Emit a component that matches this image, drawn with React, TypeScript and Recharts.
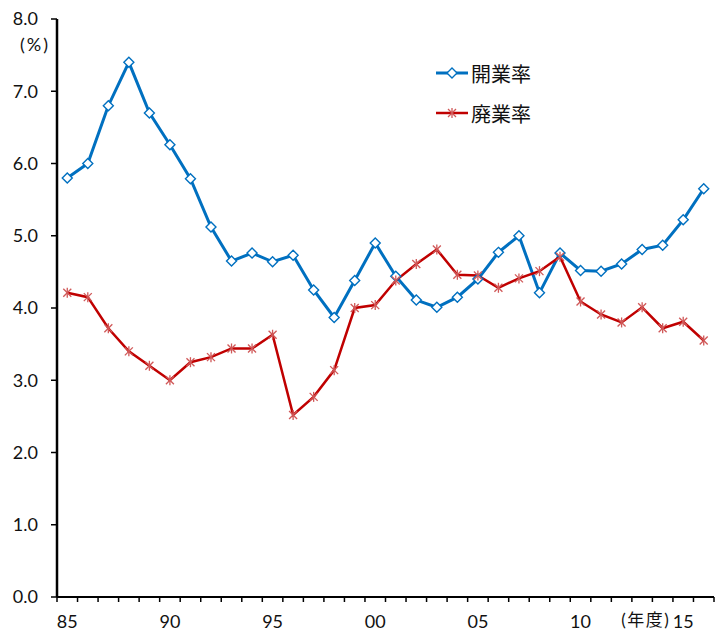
import React from "react"
import { LineChart, Line, XAxis, YAxis, Legend } from "recharts"

// fiscal years on the x axis
const years = [
  1985, 1986, 1987, 1988, 1989, 1990, 1991, 1992, 1993, 1994, 1995, 1996, 1997, 1998, 1999, 2000,
  2001, 2002, 2003, 2004, 2005, 2006, 2007, 2008, 2009, 2010, 2011, 2012, 2013, 2014, 2015, 2016,
]

// 開業率 (%)
const openingRate = [
  5.8, 6.0, 6.8, 7.4, 6.7, 6.26, 5.79, 5.12, 4.65, 4.76, 4.64, 4.73, 4.25, 3.87, 4.38, 4.9,
  4.44, 4.11, 4.01, 4.15, 4.4, 4.77, 5.0, 4.21, 4.76, 4.52, 4.51, 4.61, 4.81, 4.87, 5.22, 5.65,
]

// 廃業率 (%)
const closingRate = [
  4.21, 4.15, 3.72, 3.4, 3.2, 3.0, 3.25, 3.32, 3.44, 3.44, 3.63, 2.52, 2.77, 3.14, 4.0, 4.04,
  4.38, 4.61, 4.81, 4.46, 4.45, 4.28, 4.41, 4.51, 4.71, 4.09, 3.91, 3.8, 4.01, 3.72, 3.81, 3.55,
]

const yTicks = [0, 1, 2, 3, 4, 5, 6, 7, 8]
const xLabelYears = [1985, 1990, 1995, 2000, 2005, 2010, 2015]

const BLUE = "#0070C0"
const RED = "#C00000"
const RED_MARK = "#D05858"
const FONT = "Lato, 'Noto Sans CJK JP', sans-serif"

const data = years.map((year, i) => ({ year, open: openingRate[i], close: closingRate[i] }))

// tick marks sit between the years, labels every 5 years
const boundaries = [...years.map((y) => y - 0.5), years[years.length - 1] + 0.5]
const xTicks = [...boundaries, ...xLabelYears].sort((a, b) => a - b)

const Diamond = (props: any) => {
  const { cx, cy } = props
  if (cx == null || cy == null) return null
  const r = 5
  return (
    <polygon
      points={`${cx},${cy - r} ${cx + r},${cy} ${cx},${cy + r} ${cx - r},${cy}`}
      fill="#fff"
      stroke={BLUE}
      strokeWidth={1.4}
    />
  )
}

const Star = (props: any) => {
  const { cx, cy } = props
  if (cx == null || cy == null) return null
  const r = 4
  return (
    <g stroke={RED_MARK} strokeWidth={1.3}>
      <line x1={cx - r} y1={cy - r} x2={cx + r} y2={cy + r} />
      <line x1={cx - r} y1={cy + r} x2={cx + r} y2={cy - r} />
      <line x1={cx} y1={cy - r - 1} x2={cx} y2={cy + r + 1} />
    </g>
  )
}

const XTick = (props: any) => {
  const { x, y, payload } = props
  const v = payload.value
  if (v % 1 !== 0) {
    return <line x1={x} x2={x} y1={y} y2={y + 5} stroke="#000" strokeWidth={1.5} />
  }
  const label = String(v % 100).padStart(2, "0")
  return (
    <g>
      <text x={x} y={y + 31} textAnchor="middle" fontSize={18} fontFamily={FONT} fill="#111">
        {label}
      </text>
      {v === 2015 && (
        <text x={x - 13} y={y + 29} textAnchor="end" fontSize={17} letterSpacing={1.5} fontFamily={FONT} fill="#111">
          (年度)
        </text>
      )}
    </g>
  )
}

const legendItems = [
  { name: "開業率", color: BLUE, width: 3, Mark: Diamond },
  { name: "廃業率", color: RED, width: 2.5, Mark: Star },
]

const renderLegend = () => (
  <div>
    {legendItems.map(({ name, color, width, Mark }) => (
      <div key={name} style={{ display: "flex", alignItems: "center", height: 40 }}>
        <svg width={32} height={20}>
          <line x1={0} x2={32} y1={10} y2={10} stroke={color} strokeWidth={width} />
          <Mark cx={16} cy={10} />
        </svg>
        <span style={{ fontSize: 20, fontFamily: FONT, color: "#111", marginLeft: 3 }}>{name}</span>
      </div>
    ))}
  </div>
)

export default function App() {
  return (
    <div style={{ position: "absolute", left: 0, top: 0, width: 724, height: 631, background: "#fff" }}>
      <LineChart width={724} height={631} data={data} margin={{ top: 19, right: 10, left: 0, bottom: 0 }}>
        <XAxis
          dataKey="year"
          type="number"
          domain={[1984.5, 2016.5]}
          ticks={xTicks}
          interval={0}
          tick={<XTick />}
          tickLine={false}
          tickSize={0}
          tickMargin={0}
          height={34}
          axisLine={{ stroke: "#000", strokeWidth: 2 }}
        />
        <YAxis
          type="number"
          domain={[0, 8]}
          ticks={yTicks}
          interval={0}
          width={57}
          tickFormatter={(v: number) => v.toFixed(1)}
          tick={{ fill: "#111", fontSize: 18, fontFamily: FONT }}
          tickSize={6}
          tickMargin={13}
          tickLine={{ stroke: "#000", strokeWidth: 1.5 }}
          axisLine={{ stroke: "#000", strokeWidth: 2.5 }}
        />
        <Legend
          layout="vertical"
          align="center"
          verticalAlign="middle"
          content={renderLegend}
          wrapperStyle={{ left: 436, top: 53, width: 130 }}
        />
        <Line
          dataKey="open"
          name="開業率"
          stroke={BLUE}
          strokeWidth={3}
          dot={<Diamond />}
          isAnimationActive={false}
        />
        <Line
          dataKey="close"
          name="廃業率"
          stroke={RED}
          strokeWidth={2.5}
          dot={<Star />}
          isAnimationActive={false}
        />
      </LineChart>
      <div
        style={{
          position: "absolute",
          left: 20,
          top: 35,
          fontSize: 18,
          letterSpacing: 2,
          fontFamily: FONT,
          color: "#111",
          lineHeight: 1,
        }}
      >
        (%)
      </div>
    </div>
  )
}
